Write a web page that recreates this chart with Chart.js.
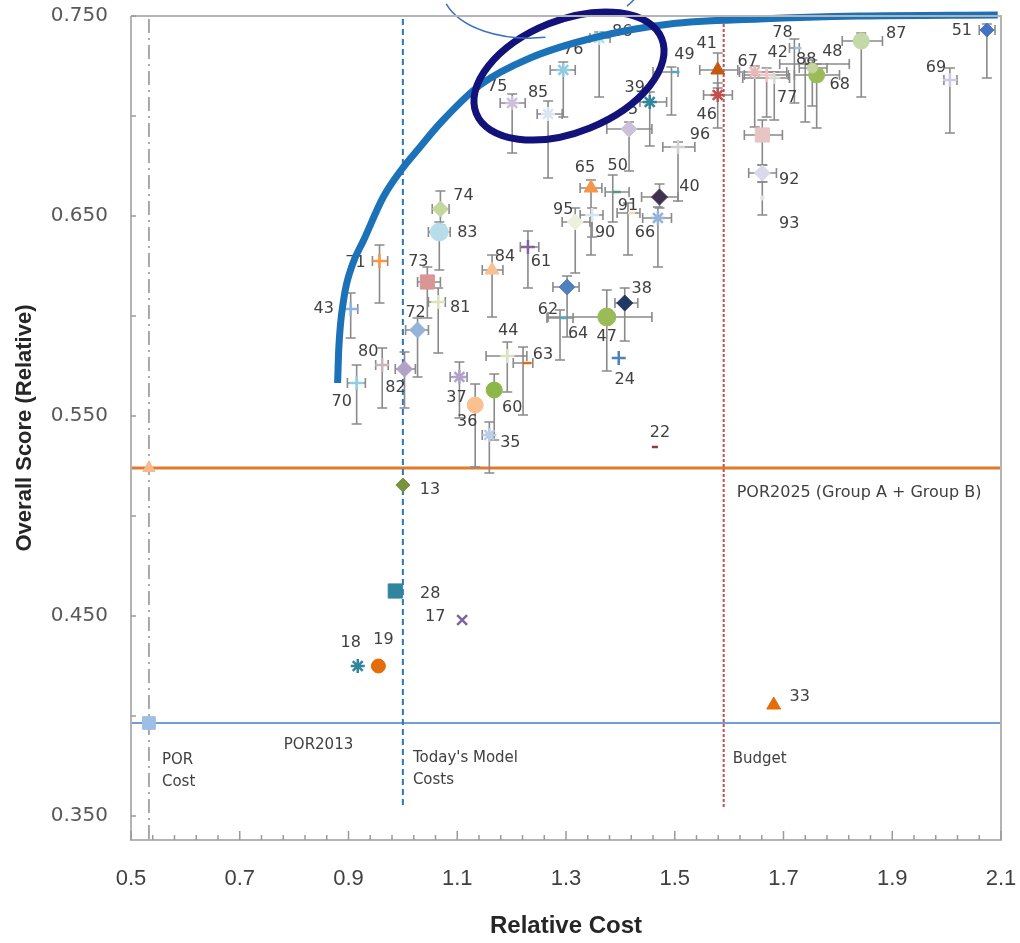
<!DOCTYPE html>
<html><head><meta charset="utf-8">
<script src="https://cdn.jsdelivr.net/npm/chart.js@4.4.1/dist/chart.umd.min.js"></script>
<style>html,body{margin:0;padding:0;background:#fff}canvas{display:block}</style>
</head><body>
<canvas id="c" width="1020" height="943"></canvas>
<script>
// ---------------- DATA ----------------
const ids = ["51","69","87","68","88","48","78","67","42","77","","92","93","41","46","49","39","5","96","40","66","65","50","91","90","95","64","62","47","38","24","22","44","63","60","37","36","35","13","82","80","70","72","81","73","83","74","71","43","84","61","75","85","76","86","28","17","18","19","33"];
const cost = [2.074,2.006,1.843,1.761,1.740,1.753,1.720,1.647,1.669,1.683,1.661,1.661,1.661,1.579,1.579,1.494,1.454,1.416,1.506,1.472,1.469,1.346,1.386,1.414,1.348,1.317,1.302,1.289,1.375,1.408,1.397,1.458,1.192,1.221,1.168,1.104,1.133,1.159,1.000,1.003,0.962,0.915,1.027,1.065,1.045,1.067,1.069,0.957,0.904,1.164,1.230,1.201,1.267,1.295,1.361,0.986,1.109,0.917,0.955,1.682];
const score = [0.743,0.718,0.7375,0.7205,0.726,0.724,0.734,0.722,0.7205,0.719,0.6905,0.6715,0.659,0.723,0.7105,0.722,0.707,0.6935,0.6845,0.6595,0.649,0.664,0.662,0.6515,0.6505,0.647,0.6145,0.599,0.5995,0.6065,0.579,0.5345,0.580,0.5765,0.563,0.5695,0.5555,0.5405,0.5155,0.5735,0.5755,0.5665,0.593,0.607,0.617,0.642,0.6535,0.6275,0.6035,0.623,0.6345,0.7065,0.701,0.723,0.739,0.4625,0.448,0.425,0.425,0.4055];
const costLow  = [2.060,1.995,1.808,1.720,1.693,1.729,1.711,1.619,1.628,1.625,1.628,1.636,null,1.546,1.553,1.460,1.436,1.375,1.478,1.439,1.441,1.326,1.372,1.394,1.326,1.293,1.276,1.265,1.267,1.390,null,null,1.153,1.203,null,1.087,null,1.146,null,0.986,0.950,0.898,1.005,1.047,1.027,1.047,1.054,0.944,0.891,1.146,1.216,1.179,1.247,1.271,1.344,null,null,null,null,null];
const costHigh = [2.089,2.019,1.882,1.803,1.821,1.780,1.729,1.706,1.709,1.711,1.698,1.687,null,1.616,1.606,1.506,1.485,1.458,1.537,1.506,1.494,1.366,1.416,1.436,1.368,1.344,1.324,1.313,1.458,1.432,null,null,1.228,1.239,null,1.118,null,1.168,null,1.023,0.973,0.931,1.047,1.078,1.069,1.087,1.085,0.972,0.917,1.184,1.250,1.225,1.293,1.317,1.381,null,null,null,null,null];
const scoreLow  = [0.719,0.6915,0.7095,0.694,0.697,0.705,0.7065,0.6945,0.6995,0.698,0.6755,0.667,0.6505,0.714,0.694,0.7005,0.685,0.6725,0.6575,0.654,0.6245,0.6305,0.647,0.6305,0.6395,0.6215,0.5895,0.578,0.5725,0.5875,null,null,0.562,0.5505,0.538,0.549,0.5245,0.5215,null,0.554,0.554,0.546,0.5695,0.5815,0.599,0.623,0.6455,0.6065,0.589,0.5995,0.614,0.6815,0.669,0.6995,0.7095,null,null,null,null,null];
const scoreHigh = [0.746,0.724,0.7415,0.726,0.729,0.728,0.7385,0.725,0.724,0.722,0.698,0.6755,0.667,0.7315,0.7165,0.7245,0.712,0.697,0.687,0.666,0.6545,0.668,0.6705,0.6565,0.654,0.654,0.620,0.603,0.613,0.614,null,null,0.587,0.5845,0.571,0.577,0.566,0.547,null,0.582,0.584,0.5755,0.599,0.614,0.6245,0.647,0.6625,0.6355,0.6115,0.6305,0.6425,0.711,0.7075,0.727,0.742,null,null,null,null,null];

const frontierCost  = [0.880,0.882,0.891,0.907,0.928,0.964,0.997,1.027,1.069,1.142,1.234,1.357,1.491,1.656,1.839,2.094];
const frontierScore = [0.5665,0.583,0.608,0.6255,0.638,0.6595,0.673,0.683,0.6965,0.7155,0.729,0.7395,0.746,0.7485,0.750,0.7505];

const xTickValues = [0.5,0.7,0.9,1.1,1.3,1.5,1.7,1.9,2.1];
const yTickValues = [0.35,0.40,0.45,0.50,0.55,0.60,0.65,0.70,0.75];

const porCost = 0.533, todaysModelCost = 1.0, budgetCost = 1.59;
const por2025Score = 0.524, por2013Score = 0.3965;

// ---------------- STYLES ----------------
const markerColors = ["#4472c4","#c9c9e3","#c4d9a8","#9bbb59","#595959","#c3d69b","#9dc3e6","#e6b9b8","#f2c4c4","#d9d9d9","#e6c5c4","#d9d9ec","#e4e4f0","#c65911","#c0504d","#4bacc6","#31859c","#ccc0da","#d0d0d0","#403151","#95b3d7","#f79646","#4a9a8a","#fcd5b4","#dbe5f1","#ebf1de","#4f81bd","#4bacc6","#9bbb59","#1f3864","#4f81bd","#953735","#d7e4bd","#e46c0a","#8cb84a","#b3a2c7","#fac090","#b9cde5","#77933c","#b3a2c7","#c9b5bc","#93cddd","#95b3d7","#d7e4bd","#da9694","#b7dee8","#c3d69b","#f79646","#8eb4e3","#fac090","#8064a2","#ccc0da","#dbe5f1","#93cddd","#b7dee8","#31859c","#8064a2","#31859c","#e46c0a","#e46c0a"];
const markerShapes = ["rectRot","cross","circle","circle","dash","circle","dash","star","cross","cross","rect","rectRot","circle","triangle","star","dash","star","rectRot","cross","rectRot","star","triangle","dash","dash","cross","rectRot","rectRot","dash","circle","rectRot","cross","dash","cross","dash","circle","star","circle","star","rectRot","rectRot","cross","cross","rectRot","cross","rect","circle","rectRot","cross","cross","triangle","cross","star","star","star","star","rect","crossRot","star","circle","triangle"];
const markerSizes = [7,7,8,8,7,5,7,7,7,6,10,8,2,8,7,8,7,8,7,8,7,8,8,7,7,8,8,7,9,8,7,6,7,8,8,7,8,7,7,8,7,7,8,7,10,9,8,7,7,8,7,7,7,7,7,10,7,7,7,8];
const labelDx = [-25,-14,35,23,1,20,-12,-7,11,13,0,27,27,-11,-11,13,-15,4,22,30,-13,-6,5,0,13,-12,11,-12,0,17,6,8,1,20,18,-3,-8,21,27,-9,-14,-15,-2,22,-9,28,23,-24,-27,13,13,-15,-10,10,23,35,-27,-7,5,26];
const labelDy = [1,-12,-7,10,-4,-16,-15,-10,-22,20,0,7,26,-26,20,-17,-14,-19,-12,-10,15,-20,-26,-7,18,-12,47,-8,20,-14,22,-14,-25,-8,18,21,17,8,5,19,-13,19,-17,6,-20,1,-13,2,0,-13,15,-16,-21,-20,-6,3,-3,-23,-26,-8];

// ---------------- CHART ----------------
const ctxEl = document.getElementById('c');
let X, Y;

const overlay = {
  id: 'overlay',
  beforeDatasetsDraw(chart) {
    const {ctx, chartArea: a, scales} = chart;
    X = v => scales.x.getPixelForValue(v);
    Y = v => scales.y.getPixelForValue(v);
    const lineBottom = Y(0.3535);
    ctx.save();
    ctx.lineWidth = 3; ctx.strokeStyle = '#e07a2f';
    ctx.beginPath(); ctx.moveTo(a.left, Y(por2025Score)); ctx.lineTo(a.right, Y(por2025Score)); ctx.stroke();
    ctx.lineWidth = 2; ctx.strokeStyle = '#6f9fd8';
    ctx.beginPath(); ctx.moveTo(a.left, Y(por2013Score)); ctx.lineTo(a.right, Y(por2013Score)); ctx.stroke();
    ctx.lineWidth = 2; ctx.strokeStyle = '#a8a8a8'; ctx.setLineDash([14,5,2,5]);
    ctx.beginPath(); ctx.moveTo(X(porCost), a.top + 3); ctx.lineTo(X(porCost), a.bottom); ctx.stroke();
    ctx.strokeStyle = '#2e75b6'; ctx.setLineDash([6,4]);
    ctx.beginPath(); ctx.moveTo(X(todaysModelCost), a.top + 3); ctx.lineTo(X(todaysModelCost), lineBottom); ctx.stroke();
    ctx.strokeStyle = '#c0504d'; ctx.setLineDash([3,2]);
    ctx.beginPath(); ctx.moveTo(X(budgetCost), a.top + 3); ctx.lineTo(X(budgetCost), lineBottom); ctx.stroke();
    ctx.setLineDash([]);
    ctx.strokeStyle = '#8a8a8a'; ctx.lineWidth = 1.6;
    const cap = 5;
    for (let i = 0; i < ids.length; i++) {
      const px = X(cost[i]), py = Y(score[i]);
      if (scoreLow[i] != null) {
        const y1 = Y(scoreLow[i]), y2 = Y(scoreHigh[i]);
        ctx.beginPath();
        ctx.moveTo(px, y1); ctx.lineTo(px, y2);
        ctx.moveTo(px - cap, y1); ctx.lineTo(px + cap, y1);
        ctx.moveTo(px - cap, y2); ctx.lineTo(px + cap, y2);
        ctx.stroke();
      }
      if (costLow[i] != null) {
        const x1 = X(costLow[i]), x2 = X(costHigh[i]);
        ctx.beginPath();
        ctx.moveTo(x1, py); ctx.lineTo(x2, py);
        ctx.moveTo(x1, py - cap); ctx.lineTo(x1, py + cap);
        ctx.moveTo(x2, py - cap); ctx.lineTo(x2, py + cap);
        ctx.stroke();
      }
    }
    ctx.fillStyle = '#404040'; ctx.font = '16px "DejaVu Sans"';
    ctx.textAlign = 'center'; ctx.textBaseline = 'middle';
    for (let i = 0; i < ids.length; i++) {
      if (!ids[i]) continue;
      ctx.fillText(ids[i], X(cost[i]) + labelDx[i], Y(score[i]) + labelDy[i]);
    }
    ctx.textAlign = 'left'; ctx.fillStyle = '#404040';
    ctx.font = '16px "DejaVu Sans"';
    ctx.fillText('POR2025 (Group A + Group B)', X(budgetCost) + 13, Y(por2025Score) + 25);
    ctx.font = '15px "DejaVu Sans"';
    ctx.fillText('POR2013', X(0.781), Y(por2013Score) + 22);
    ctx.fillText('POR', X(porCost) + 13, Y(por2013Score) + 37);
    ctx.fillText('Cost', X(porCost) + 13, Y(por2013Score) + 59);
    ctx.fillText("Today's Model", X(todaysModelCost) + 10, Y(por2013Score) + 35);
    ctx.fillText('Costs', X(todaysModelCost) + 10, Y(por2013Score) + 57);
    ctx.fillText('Budget', X(budgetCost) + 9, Y(por2013Score) + 36);
    ctx.restore();
  },
  afterDatasetsDraw(chart) {
    const {ctx, chartArea: a} = chart;
    ctx.save();
    ctx.strokeStyle = '#12127a'; ctx.lineWidth = 7;
    ctx.beginPath(); ctx.ellipse(X(1.3055), Y(0.72), 100, 56, -22 * Math.PI / 180, 0, 2 * Math.PI); ctx.stroke();
    ctx.strokeStyle = '#3a6fc4'; ctx.lineWidth = 1.5;
    ctx.beginPath(); ctx.ellipse(X(1.2615), Y(0.7705), 105, 62, -0.14, 1.65, 2.9); ctx.stroke();
    ctx.beginPath(); ctx.ellipse(X(1.2615), Y(0.7705), 105, 62, -0.14, 0.15, 0.75); ctx.stroke();
    ctx.strokeStyle = '#b4b4b4'; ctx.lineWidth = 2;
    ctx.beginPath();
    ctx.moveTo(a.left, a.top); ctx.lineTo(a.right, a.top); ctx.lineTo(a.right, a.bottom);
    ctx.lineTo(a.left, a.bottom); ctx.lineTo(a.left, a.top);
    ctx.stroke();
    ctx.strokeStyle = '#9a9a9a'; ctx.lineWidth = 1.5;
    ctx.beginPath();
    for (let k = 0; k <= 40; k++) {
      const px = X(0.5 + k * 0.04);
      ctx.moveTo(px, a.bottom); ctx.lineTo(px, a.bottom - (k % 5 === 0 ? 9 : 5));
    }
    for (const v of yTickValues) { ctx.moveTo(a.left, Y(v)); ctx.lineTo(a.left + 5, Y(v)); }
    ctx.stroke();
    ctx.restore();
  }
};

const noPad = s => { s.paddingTop = 0; s.paddingBottom = 0; s.paddingLeft = 0; s.paddingRight = 0; };

new Chart(ctxEl, {
  type: 'scatter',
  data: {
    datasets: [
      {
        label: 'frontier',
        data: frontierCost.map((c, i) => ({x: c, y: frontierScore[i]})),
        showLine: true, borderColor: '#1b72b8', borderWidth: 7, pointRadius: 0,
        cubicInterpolationMode: 'monotone', borderCapStyle: 'butt', clip: false, fill: false
      },
      {
        label: 'references',
        data: [{x: porCost, y: por2013Score}, {x: porCost, y: por2025Score}],
        pointStyle: ['rect', 'triangle'], pointRadius: [9, 7],
        pointBackgroundColor: ['#9dbfe6', '#f9b98a'], pointBorderColor: ['#9dbfe6', '#f9b98a'],
        clip: false
      },
      {
        label: 'designs',
        data: cost.map((c, i) => ({x: c, y: score[i]})),
        pointStyle: markerShapes, pointRadius: markerSizes,
        pointBackgroundColor: markerColors, pointBorderColor: markerColors,
        pointBorderWidth: markerShapes.map(s => (s === 'star' || s === 'cross' || s === 'crossRot' || s === 'dash') ? 2.5 : 1),
        clip: false
      }
    ]
  },
  options: {
    responsive: false, animation: false,
    layout: {padding: {top: 16, right: 19, left: 0, bottom: 0}},
    plugins: {legend: {display: false}, tooltip: {enabled: false}},
    scales: {
      x: {
        type: 'linear', min: 0.5, max: 2.1,
        afterBuildTicks: s => { s.ticks = xTickValues.map(v => ({value: v})); },
        afterFit: s => { s.height = 103; noPad(s); },
        grid: {display: false, drawTicks: false}, border: {display: false},
        ticks: {padding: 26, autoSkip: false, maxRotation: 0, color: '#404040',
                font: {family: 'Liberation Sans', size: 22}, callback: v => v.toFixed(1)},
        title: {display: true, text: 'Relative Cost', color: '#262626',
                font: {family: 'Liberation Sans', size: 24, weight: 'bold'}, padding: {top: 0, bottom: 2}}
      },
      y: {
        type: 'linear', min: 0.338, max: 0.75,
        afterBuildTicks: s => { s.ticks = yTickValues.map(v => ({value: v})); },
        afterFit: s => { s.width = 131; noPad(s); },
        grid: {display: false, drawTicks: false}, border: {display: false},
        ticks: {padding: 23, autoSkip: false, color: '#595959',
                font: {family: 'DejaVu Sans', size: 20},
                callback: v => (Math.round(v * 100) % 10 === 5 ? v.toFixed(3) : '')},
        title: {display: true, text: 'Overall Score (Relative)', color: '#262626',
                font: {family: 'Liberation Sans', size: 22, weight: 'bold'}, padding: {top: 12, bottom: 0}}
      }
    }
  },
  plugins: [overlay]
});
</script>
</body></html>
